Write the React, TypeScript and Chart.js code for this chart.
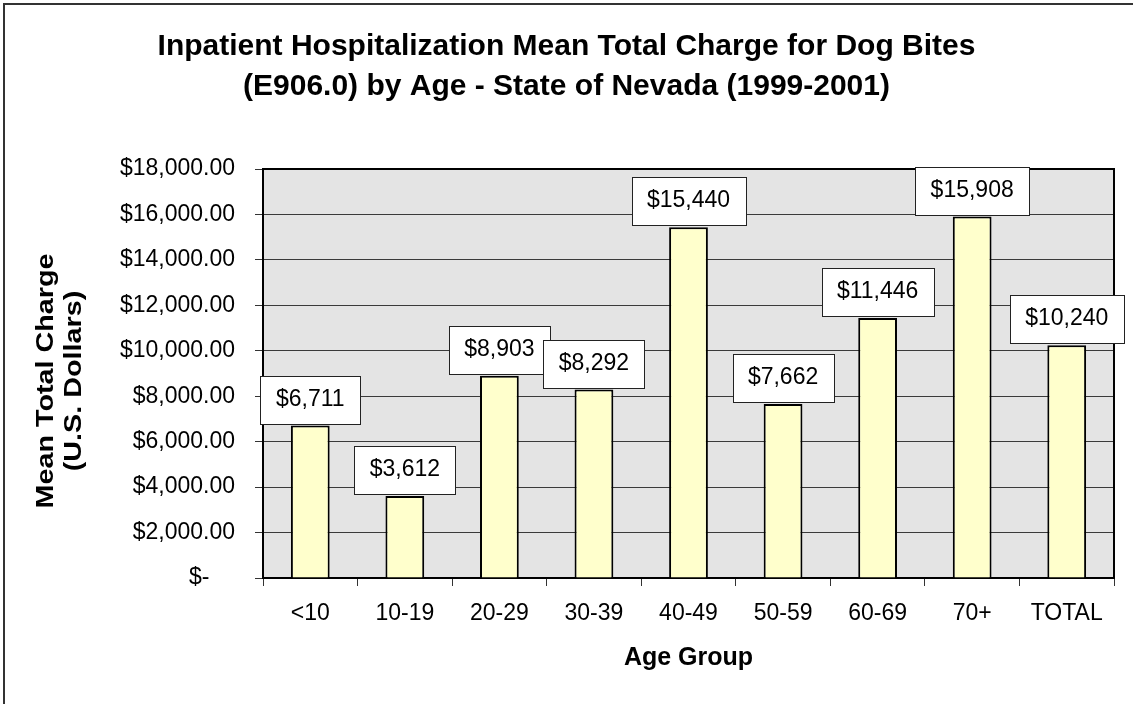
import { useEffect, useRef } from 'react';
import { Chart, registerables } from 'chart.js';

Chart.register(...registerables);

const categories = ['<10', '10-19', '20-29', '30-39', '40-49', '50-59', '60-69', '70+', 'TOTAL'];
const meanCharges = [6711, 3612, 8903, 8292, 15440, 7662, 11446, 15908, 10240];
const yTickValues = [0, 2000, 4000, 6000, 8000, 10000, 12000, 14000, 16000, 18000];
const titleLines = [
  'Inpatient Hospitalization Mean Total Charge for Dog Bites',
  '(E906.0) by Age - State of Nevada (1999-2001)',
];
const yTitleLines = ['Mean Total Charge', '(U.S. Dollars)'];
const xTitle = 'Age Group';

const FONT = '"Liberation Sans", Arial, Helvetica, sans-serif';

const fmtTick = (v: number) =>
  v === 0
    ? '$-    '
    : '$' + v.toLocaleString('en-US', { minimumFractionDigits: 2, maximumFractionDigits: 2 });
const fmtLabel = (v: number) => '$' + v.toLocaleString('en-US');

const decorPlugin = {
  id: 'decor',
  beforeDraw(chart: any) {
    const { ctx, chartArea: a } = chart;
    ctx.save();
    ctx.fillStyle = '#E4E4E4';
    ctx.fillRect(a.left, a.top, a.right - a.left, a.bottom - a.top);
    // outer frame (left and top)
    ctx.strokeStyle = '#333333';
    ctx.lineWidth = 2;
    ctx.beginPath();
    ctx.moveTo(4, chart.height);
    ctx.lineTo(4, 4);
    ctx.lineTo(chart.width, 4);
    ctx.stroke();
    // main title
    ctx.fillStyle = '#000';
    ctx.font = `bold 30px ${FONT}`;
    ctx.textAlign = 'center';
    ctx.textBaseline = 'alphabetic';
    ctx.fillText(titleLines[0], chart.width / 2, 55);
    ctx.fillText(titleLines[1], chart.width / 2, 95);
    // y axis title (two rotated lines)
    ctx.font = `bold 23px ${FONT}`;
    const baselines = [53, 81];
    yTitleLines.forEach((t, i) => {
      ctx.save();
      ctx.translate(baselines[i], 381);
      ctx.rotate(-Math.PI / 2);
      ctx.scale(1.25, 1);
      ctx.fillText(t, 0, 0);
      ctx.restore();
    });
    ctx.restore();
  },
  beforeDatasetsDraw(chart: any) {
    const { ctx, chartArea: a } = chart;
    ctx.save();
    ctx.strokeStyle = '#000';
    ctx.lineWidth = 2;
    ctx.beginPath();
    ctx.moveTo(a.left, a.top);
    ctx.lineTo(a.right, a.top);
    ctx.lineTo(a.right, a.bottom);
    ctx.stroke();
    ctx.restore();
  },
  afterDatasetsDraw(chart: any) {
    const { ctx } = chart;
    const meta = chart.getDatasetMeta(0);
    ctx.save();
    ctx.font = `23px ${FONT}`;
    ctx.textAlign = 'center';
    ctx.textBaseline = 'alphabetic';
    meta.data.forEach((bar: any, i: number) => {
      const text = fmtLabel(meanCharges[i]);
      const tw = ctx.measureText(text).width;
      const w = Math.round(tw + 31);
      const h = 48;
      const left = Math.round(bar.x - w / 2);
      const top = Math.round(bar.y - 2 - h);
      ctx.fillStyle = '#FFFFFF';
      ctx.fillRect(left, top, w, h);
      ctx.strokeStyle = '#222';
      ctx.lineWidth = 1;
      ctx.strokeRect(left + 0.5, top + 0.5, w, h);
      ctx.fillStyle = '#000';
      ctx.fillText(text, bar.x, top + 30);
    });
    ctx.restore();
  },
};

export default function App() {
  const ref = useRef<HTMLCanvasElement | null>(null);

  useEffect(() => {
    if (!ref.current) return;
    const chart = new Chart(ref.current, {
      type: 'bar',
      data: {
        labels: categories,
        datasets: [
          {
            data: meanCharges,
            backgroundColor: '#FFFFCC',
            borderColor: '#000000',
            borderWidth: 2,
            categoryPercentage: 1,
            barPercentage: 0.41,
          },
        ],
      },
      options: {
        responsive: false,
        animation: false,
        layout: { padding: { left: 0, right: 19, top: 169, bottom: 0 } },
        plugins: {
          legend: { display: false },
          title: { display: false },
          tooltip: { enabled: false },
        },
        scales: {
          x: {
            afterFit: (s: any) => {
              s.height = 126;
            },
            grid: {
              display: true,
              drawOnChartArea: false,
              drawTicks: true,
              tickLength: 8,
              color: '#333333',
              lineWidth: 1,
            },
            border: { display: true, color: '#000', width: 2 },
            ticks: {
              color: '#000',
              font: { family: FONT, size: 23 },
              padding: 14,
              maxRotation: 0,
              autoSkip: false,
            },
            title: {
              display: true,
              text: xTitle,
              color: '#000',
              font: { family: FONT, size: 25, weight: 'bold' },
              padding: { top: 0, bottom: 31 },
            },
          },
          y: {
            min: yTickValues[0],
            max: yTickValues[yTickValues.length - 1],
            afterFit: (s: any) => {
              s.width = 263;
            },
            afterBuildTicks: (s: any) => {
              s.ticks = yTickValues.map((v) => ({ value: v }));
            },
            grid: {
              color: '#3a3a3a',
              lineWidth: 1,
              drawTicks: true,
              tickLength: 8,
              tickColor: '#333333',
            },
            border: { display: true, color: '#000', width: 2 },
            ticks: {
              color: '#000',
              font: { family: FONT, size: 23 },
              padding: 20,
              callback: (v: any) => fmtTick(Number(v)),
            },
          },
        },
      },
      plugins: [decorPlugin],
    });
    return () => chart.destroy();
  }, []);

  return (
    <canvas
      ref={ref}
      width={1133}
      height={704}
      style={{ position: 'absolute', left: 0, top: 0, display: 'block' }}
    />
  );
}
